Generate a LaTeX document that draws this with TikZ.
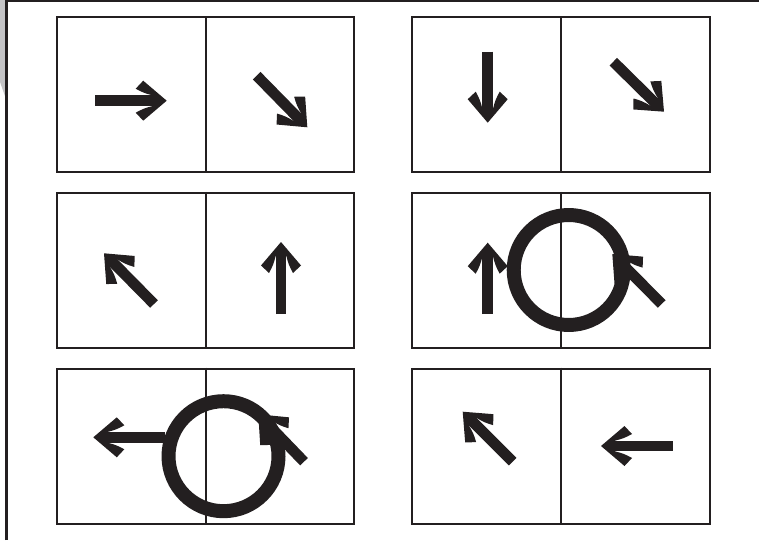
\documentclass[tikz,border=0pt]{standalone}
\usepackage{xcolor}
\usepackage{tikz}
\usetikzlibrary{positioning, calc}
\definecolor{inkblack}{RGB}{35, 31, 32}
\definecolor{edgegray}{RGB}{196, 196, 198}

\tikzset{
  fathead/.pic={
    \fill[inkblack] (0,0) -- (-23.5,20) -- (-31,12) to[bend left=8] (-14,5.35)
      -- (-14,-5.35) to[bend left=8] (-31,-12) -- (-23.5,-20) -- cycle;
  }
}
\newcommand{\fatarrow}[2]{%
  \draw[shaft] (#1) -- ($(#2)!0.24cm!(#1)$);
  \path let \p1 = ($(#2)-(#1)$), \n1 = {atan2(\y1,\x1)} in
    pic[rotate=\n1] at (#2) {fathead};
}

\begin{document}
\begin{tikzpicture}[
  x=0.02cm, y=-0.02cm,
  panel/.style={draw=inkblack, line width=0.045cm, minimum width=5.95cm, minimum height=3.1cm, inner sep=0pt},
  divider/.style={draw=inkblack, line width=0.04cm},
  shaft/.style={draw=inkblack, line width=0.214cm},
  ring/.style={circle, draw=inkblack, line width=0.28cm, minimum size=2.2cm, inner sep=0pt},
  frame/.style={draw=inkblack, line width=0.05cm}
]
  \useasboundingbox (0,0) rectangle (759,540);

  % Rahmen
  \fill[edgegray] (0,0) -- (5.3,0) -- (5.3,97) -- (0,82) -- cycle;
  \coordinate (fA) at (6.3,540);
  \coordinate (fB) at (6.3,1.2);
  \coordinate (fC) at (759,1.2);
  \draw[frame] (fA) -- (fB) -- (fC);

  % Felder
  \node[panel] (p1) at (205.5,94.8) {};
  \node[panel] (p2) at (561,94.8) {};
  \node[panel] (p3) at (205.5,270.4) {};
  \node[panel] (p4) at (561,270.4) {};
  \node[panel] (p5) at (205.5,446.3) {};
  \node[panel] (p6) at (561,446.3) {};
  \foreach \p in {p1,p2,p3,p4,p5,p6}
    \draw[divider] (\p.north) -- (\p.south);

  % Kreise
  \node[ring] (k4) at (568.7,270) {};
  \node[ring] (k5) at (223.5,456.2) {};

  % Pfeile
  \coordinate (a1s) at (95,100.7);    \coordinate (a1e) at (166.7,100.7);
  \coordinate (b1s) at (256.7,75.7);  \coordinate (b1e) at (307.3,127.3);
  \coordinate (a2s) at (487.7,51.7);  \coordinate (a2e) at (487.7,122.7);
  \coordinate (b2s) at (613.3,61.7);  \coordinate (b2e) at (664,111.7);
  \coordinate (a3s) at (154,304);     \coordinate (a3e) at (104,253.3);
  \coordinate (b3s) at (281,314);     \coordinate (b3e) at (281,242);
  \coordinate (a4s) at (487.7,314);   \coordinate (a4e) at (487.7,242.7);
  \coordinate (b4s) at (661.7,304);   \coordinate (b4e) at (612.3,254);
  \coordinate (a5s) at (165,437.3);   \coordinate (a5e) at (93.3,437.3);
  \coordinate (b5s) at (304,461.7);   \coordinate (b5e) at (258.3,414.3);
  \coordinate (a6s) at (512.7,461.7); \coordinate (a6e) at (462.7,411.7);
  \coordinate (b6s) at (672.7,446);   \coordinate (b6e) at (601,446);

  \foreach \q in {a1,b1,a2,b2,a3,b3,a4,b4,a5,b5,a6,b6} {
    \fatarrow{\q s}{\q e}
  }
\end{tikzpicture}
\end{document}
